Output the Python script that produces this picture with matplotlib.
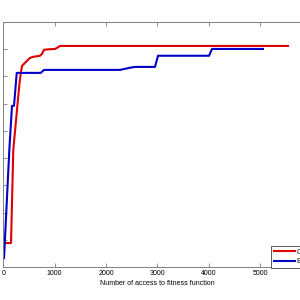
import matplotlib
matplotlib.use('Agg')
import matplotlib.pyplot as plt

# convergence curves
ga_x = [54, 152, 196, 268, 317, 346, 366, 424, 482, 521, 580, 716, 755, 794, 911, 1008, 1047, 1105, 5541]
ga_y = [0.88, 0.88, 4.30, 5.77, 6.76, 7.17, 7.39, 7.50, 7.61, 7.68, 7.72, 7.76, 7.83, 7.98, 8.00, 8.01, 8.05, 8.12, 8.12]

ba_x = [16, 119, 171, 210, 263, 730, 794, 2272, 2467, 2565, 2953, 3012, 4004, 4062, 5054]
ba_y = [0.33, 4.30, 5.92, 5.92, 7.13, 7.13, 7.24, 7.24, 7.32, 7.35, 7.35, 7.76, 7.76, 8.01, 8.01]

xticks = [0, 1000, 2000, 3000, 4000, 5000, 6000]
yticks = list(range(0, 10))

plt.rcParams['font.family'] = ['Liberation Sans', 'DejaVu Sans']

fig = plt.figure(figsize=(3, 3), dpi=100)
ax = fig.add_axes([0.0107, 0.11, 1.028, 0.8167])

ax.plot(ga_x, ga_y, color='#e00000', lw=1.5, label='GA')
ax.plot(ba_x, ba_y, color='#0000c8', lw=1.5, label='BA')

ax.set_xlim(0, 6000)
ax.set_ylim(0, 9)
ax.set_xticks(xticks)
ax.set_yticks(yticks)
ax.tick_params(direction='in', length=3, width=0.6, color='#808080',
               labelsize=5, pad=2.5, top=True, right=True)
for s in ax.spines.values():
    s.set_color('#808080')
    s.set_linewidth(0.7)

ax.set_xlabel('Number of access to fitness function', fontsize=5, labelpad=1.5)

leg = ax.legend(loc='upper left', bbox_to_anchor=(268 / 300, 1 - 243 / 300),
                bbox_transform=fig.transFigure, fontsize=5, handlelength=3,
                handletextpad=0.3, labelspacing=0.35, borderpad=0.35,
                fancybox=False, framealpha=1)
leg.get_frame().set_edgecolor('#404040')
leg.get_frame().set_linewidth(0.6)

fig.savefig('out.png', dpi=100)
